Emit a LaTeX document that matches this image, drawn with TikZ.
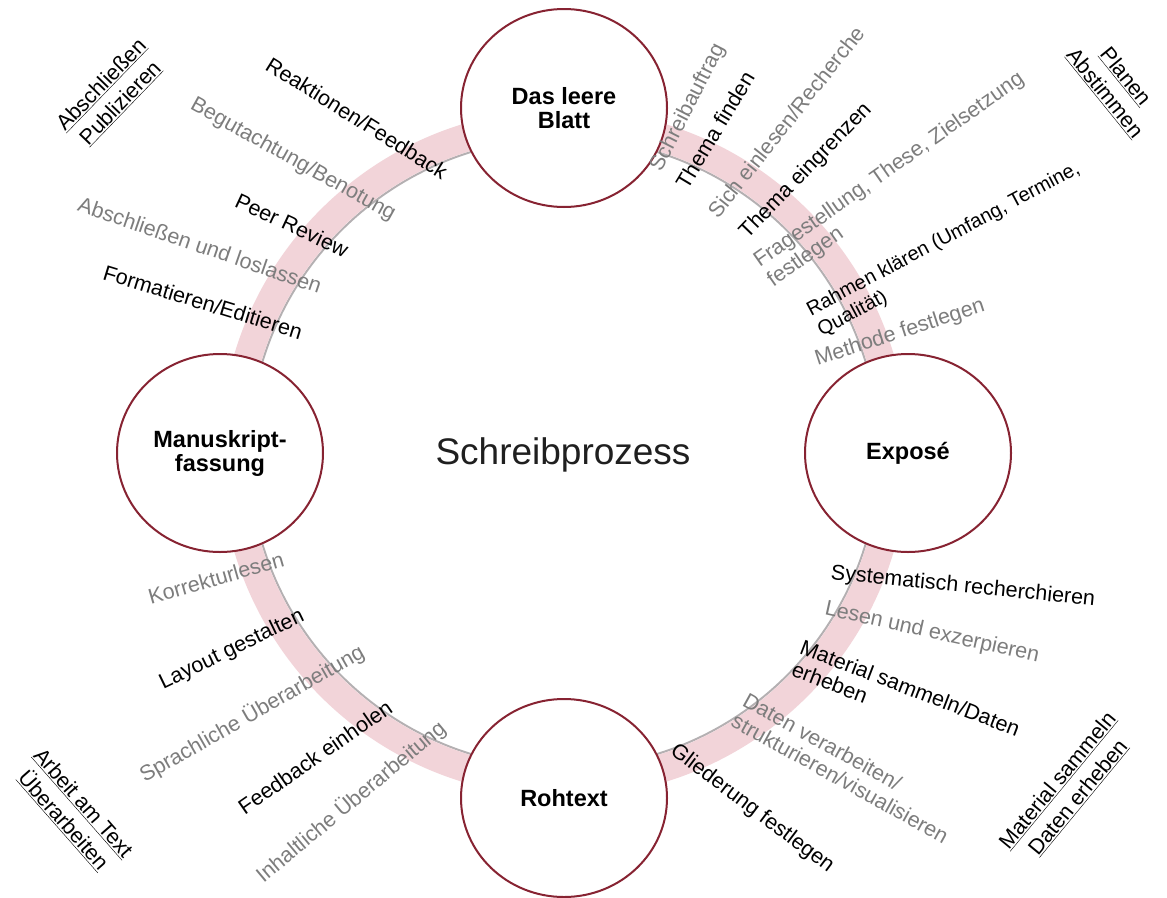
\documentclass[tikz,border=0pt]{standalone}
\usepackage{fontspec}
\setmainfont{Liberation Sans}
\usetikzlibrary{shapes.geometric}
\definecolor{bandpink}{RGB}{242,212,217}
\definecolor{circred}{RGB}{135,35,50}
\definecolor{labgray}{RGB}{125,125,125}
\definecolor{shadowgray}{RGB}{180,176,178}
\begin{document}
\begin{tikzpicture}[x=1pt,y=-1pt,
  lab/.style={font=\fontsize{21.5}{23.5}\selectfont, inner sep=0pt, text=black},
  glab/.style={lab, text=labgray},
  corner/.style={lab, align=center, font=\fontsize{21.5}{26.5}\selectfont},
  stage/.style={ellipse, draw=circred, line width=2pt, fill=white, minimum width=206pt, minimum height=198pt, inner sep=0pt, align=center, font=\bfseries\fontsize{23.5}{24}\selectfont},
  band/.style={draw=bandpink, line width=28pt},
  bandshadow/.style={draw=shadowgray, line width=2pt}]
\useasboundingbox (0,0) rectangle (1167,897);
\fill[white] (0,0) rectangle (1167,897);
% ring
\coordinate (ringC) at (564,453);
\coordinate (bT) at (564,123);
\coordinate (bR) at (894,453);
\coordinate (bB) at (564,783);
\coordinate (bL) at (234,453);
\draw[bandshadow] (ringC) circle[radius=315];
\draw[band] (bT) to[bend left=45] (bR) to[bend left=45] (bB) to[bend left=45] (bL) to[bend left=45] (bT);
% stages
\node[stage] (blatt) at (564,108) {Das leere\\Blatt};
\node[stage] (expose) at (908,453) {Exposé};
\node[stage] (rohtext) at (564,798) {Rohtext};
\node[stage] (manus) at (220,453) {Manuskript-\\fassung};
% title
\node[font=\fontsize{37}{40}\selectfont, text=black!88, inner sep=0pt] (title) at (563,455) {Schreibprozess};
% top-right arc labels
\node[glab, rotate=63] (l1) at (688,108) {Schreibauftrag};
\node[lab, rotate=59] (l2) at (715,130) {Thema finden};
\node[glab, rotate=51.6] (l3) at (786,122) {Sich einlesen/Recherche};
\node[lab, rotate=46] (l4) at (806,171) {Thema eingrenzen};
\node[glab, rotate=35, align=left] (l5) at (896,180) {Fragestellung, These, Zielsetzung\\festlegen};
\node[lab, rotate=28, align=left, font=\fontsize{20}{23}\selectfont] (l6) at (949,250) {Rahmen klären (Umfang, Termine,\\Qualität)};
\node[glab, rotate=18] (l7) at (900,333) {Methode festlegen};
\node[corner, rotate=-51] (c1) at (1115,85) {\underline{Planen}\\\underline{Abstimmen}};
% bottom-right arc labels
\node[lab, rotate=-5.8] (r1) at (963,587) {Systematisch recherchieren};
\node[glab, rotate=-12.5] (r2) at (932,633) {Lesen und exzerpieren};
\node[lab, rotate=-21, align=left] (r3) at (906,699) {Material sammeln/Daten\\erheben};
\node[glab, rotate=-29, align=left] (r4) at (846,768) {Daten verarbeiten/\\strukturieren/visualisieren};
\node[lab, rotate=-37] (r5) at (752,809) {Gliederung festlegen};
\node[corner, rotate=50.5] (c2) at (1068,789) {\underline{Material sammeln}\\\underline{Daten erheben}};
% bottom-left arc labels
\node[glab, rotate=16] (b1) at (216,578) {Korrekturlesen};
\node[lab, rotate=25.8] (b2) at (232,650) {Layout gestalten};
\node[glab, rotate=29.7] (b3) at (252,714) {Sprachliche Überarbeitung};
\node[lab, rotate=34.8] (b4) at (315,757) {Feedback einholen};
\node[glab, rotate=39.8] (b5) at (351,802) {Inhaltliche Überarbeitung};
\node[corner, rotate=-48.7] (c3) at (73,812) {\underline{Arbeit am Text}\\\underline{Überarbeiten}};
% top-left arc labels
\node[lab, rotate=-32] (t1) at (357,118) {Reaktionen/Feedback};
\node[glab, rotate=-29] (t2) at (293,160) {Begutachtung/Benotung};
\node[lab, rotate=-25] (t3) at (292,225) {Peer Review};
\node[glab, rotate=-19] (t4) at (200,245) {Abschließen und loslassen};
\node[lab, rotate=-17] (t5) at (203,302) {Formatieren/Editieren};
\node[corner, rotate=46] (c4) at (111,94) {\underline{Abschließen}\\\underline{Publizieren}};
\end{tikzpicture}
\end{document}
